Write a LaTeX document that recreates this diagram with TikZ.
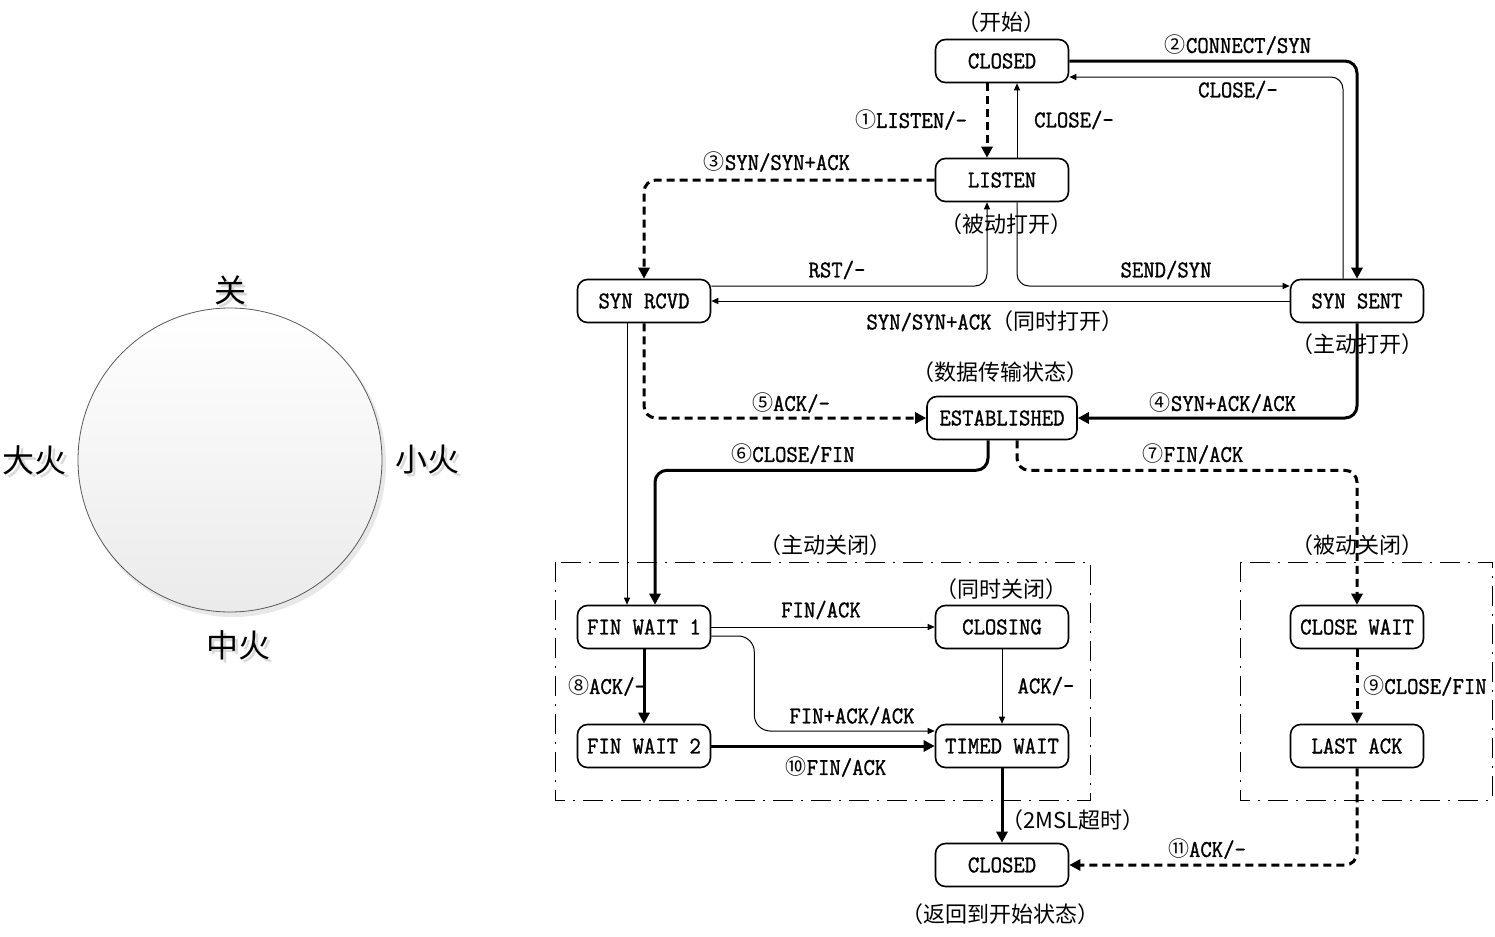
\documentclass[tikz,border=0pt]{standalone}
\usepackage{fontspec}
\usetikzlibrary{arrows.meta,calc}
\newfontfamily\cjk{Noto Sans CJK SC}
\newfontfamily\lat[FakeStretch=0.92,FakeBold=1.2]{Latin Modern Mono}
\newcommand\zh[1]{{\cjk\fontsize{10.5}{12}\selectfont #1}}
\tikzset{
  st/.style={draw, rounded corners=5pt, minimum width=66.5pt, minimum height=21.5pt,
    line width=0.8pt, inner sep=0pt, font=\lat\fontsize{12}{14}\selectfont},
  thinl/.style={line width=0.5pt, -{Triangle[length=3.5pt,width=3pt]}},
  thickl/.style={line width=1.5pt, -{Triangle[length=5.5pt,width=5.5pt]}},
  dashl/.style={thickl, dash pattern=on 4pt off 2.5pt},
  lbl/.style={font=\lat\fontsize{12}{14}\selectfont, inner sep=0pt},
  zhl/.style={font=\cjk\fontsize{11}{13}\selectfont, inner sep=0pt},
  big/.style={font=\cjk\fontsize{16}{18}\selectfont, inner sep=0pt},
  grp/.style={line width=0.5pt, dash pattern=on 10pt off 4pt on 1pt off 4pt},
}
\begin{document}
\begin{tikzpicture}[x=0.5pt,y=-0.5pt]
\useasboundingbox (0,0) rectangle (1495,937);
\fill[white] (0,0) rectangle (1495,937);

% ---- left circle ----
\fill[gray!18] (233,464) circle (76.5pt);
\shade[top color=white, bottom color=gray!16, draw=gray!70!black, line width=0.4pt] (230,460) circle (76pt);
\node[big,text=gray!30] (s1) at (233,293) {关};
\node[big,text=gray!30] (s2) at (38,463) {大火};
\node[big,text=gray!30] (s3) at (430,463) {小火};
\node[big,text=gray!30] (s4) at (241,648) {中火};
\node[big] (k1) at (230,290) {关};
\node[big] (k2) at (35,460) {大火};
\node[big] (k3) at (427,460) {小火};
\node[big] (k4) at (238,645) {中火};

% ---- groups ----
\draw[grp] (555,562) rectangle (1090,800);
\draw[grp] (1240,562) rectangle (1492,800);

% ---- states ----
\node[st] (c0) at (1002,61) {CLOSED};
\node[st] (li) at (1002,180) {LISTEN};
\node[st] (sr) at (644,301) {SYN RCVD};
\node[st] (ss) at (1357,301) {SYN SENT};
\node[st, minimum width=75pt] (es) at (1002,418) {ESTABLISHED};
\node[st] (f1) at (644,627) {FIN WAIT 1};
\node[st] (cg) at (1002,627) {CLOSING};
\node[st] (f2) at (644,746) {FIN WAIT 2};
\node[st] (tw) at (1002,746) {TIMED WAIT};
\node[st] (cw) at (1357,627) {CLOSE WAIT};
\node[st] (la) at (1357,746) {LAST ACK};
\node[st] (c1) at (1002,865) {CLOSED};

% ---- connectors ----
\draw[dashl] ($(c0.south)+(-15,0)$) -- ($(li.north)+(-15,0)$);
\draw[thinl] ($(li.north)+(15,0)$) -- ($(c0.south)+(15,0)$);
\draw[thickl, rounded corners=6pt] (c0.east) -| (ss.north);
\draw[thinl, rounded corners=6pt] ($(ss.north)+(-14,0)$) |- ($(c0.east)+(0,16)$);
\draw[dashl, rounded corners=6pt] (li.west) -| (sr.north);
\draw[thinl, rounded corners=6pt] ($(sr.east)+(0,-15)$) -| ($(li.south)+(-15,0)$);
\draw[thinl, rounded corners=6pt] ($(li.south)+(15,0)$) |- ($(ss.west)+(0,-15)$);
\draw[thinl] (ss.west) -- (sr.east);
\draw[dashl, rounded corners=6pt] (sr.south) |- (es.west);
\draw[thickl, rounded corners=6pt] (ss.south) |- (es.east);
\draw[thinl] ($(sr.south)+(-17,0)$) -- ($(f1.north)+(-17,0)$);
\draw[thickl, rounded corners=6pt] ($(es.south)+(-14,0)$) -- ++(0,30) -| ($(f1.north)+(11,0)$);
\draw[dashl, rounded corners=6pt] ($(es.south)+(15,0)$) -- ++(0,30) -| (cw.north);
\draw[thinl] (f1.east) -- (cg.west);
\draw[thinl, rounded corners=8pt] ($(f1.east)+(0,9)$) -- ++(43,0) |- ($(tw.west)+(0,-15)$);
\draw[thinl] (cg.south) -- (tw.north);
\draw[thickl] (f1.south) -- (f2.north);
\draw[thickl] (f2.east) -- (tw.west);
\draw[dashl] (cw.south) -- (la.north);
\draw[dashl, rounded corners=6pt] (la.south) |- (c1.east);
\draw[thickl] (tw.south) -- (c1.north);

% ---- connector labels ----
\node[lbl] (t1) at (911,120) {\zh{①}LISTEN/-};
\node[lbl] (t2) at (1074,120) {CLOSE/-};
\node[lbl] (t3) at (1238,45) {\zh{②}CONNECT/SYN};
\node[lbl] (t4) at (1238,90) {CLOSE/-};
\node[lbl] (t5) at (777,162) {\zh{③}SYN/SYN+ACK};
\node[lbl] (t6) at (837,270) {RST/-};
\node[lbl] (t7) at (1166,270) {SEND/SYN};
\node[lbl] (t8) at (995,321) {SYN/SYN+ACK{\cjk\fontsize{11}{13}\selectfont（同时打开）}};
\node[lbl] (t9) at (791,403) {\zh{⑤}ACK/-};
\node[lbl] (t10) at (1223,403) {\zh{④}SYN+ACK/ACK};
\node[lbl] (t11) at (793,454) {\zh{⑥}CLOSE/FIN};
\node[lbl] (t12) at (1193,454) {\zh{⑦}FIN/ACK};
\node[lbl] (t13) at (821,610) {FIN/ACK};
\node[lbl] (t14) at (852,716) {FIN+ACK/ACK};
\node[lbl] (t15) at (1046,686) {ACK/-};
\node[lbl] (t16) at (607,686) {\zh{⑧}ACK/-};
\node[lbl] (t17) at (836,767) {\zh{⑩}FIN/ACK};
\node[lbl] (t18) at (1425,686) {\zh{⑨}CLOSE/FIN};
\node[lbl] (t19) at (1207,849) {\zh{⑪}ACK/-};
\node[zhl] (t20) at (1073,820) {（2MSL超时）};

% ---- state notes ----
\node[zhl] (n1) at (1001,22) {（开始）};
\node[zhl] (n2) at (1006,224) {（被动打开）};
\node[zhl] (n3) at (1357,344) {（主动打开）};
\node[zhl] (n4) at (1000,372) {（数据传输状态）};
\node[zhl] (n5) at (825,545) {（主动关闭）};
\node[zhl] (n6) at (1001,589) {（同时关闭）};
\node[zhl] (n7) at (1357,545) {（被动关闭）};
\node[zhl] (n8) at (1000,914) {（返回到开始状态）};
\end{tikzpicture}
\end{document}
